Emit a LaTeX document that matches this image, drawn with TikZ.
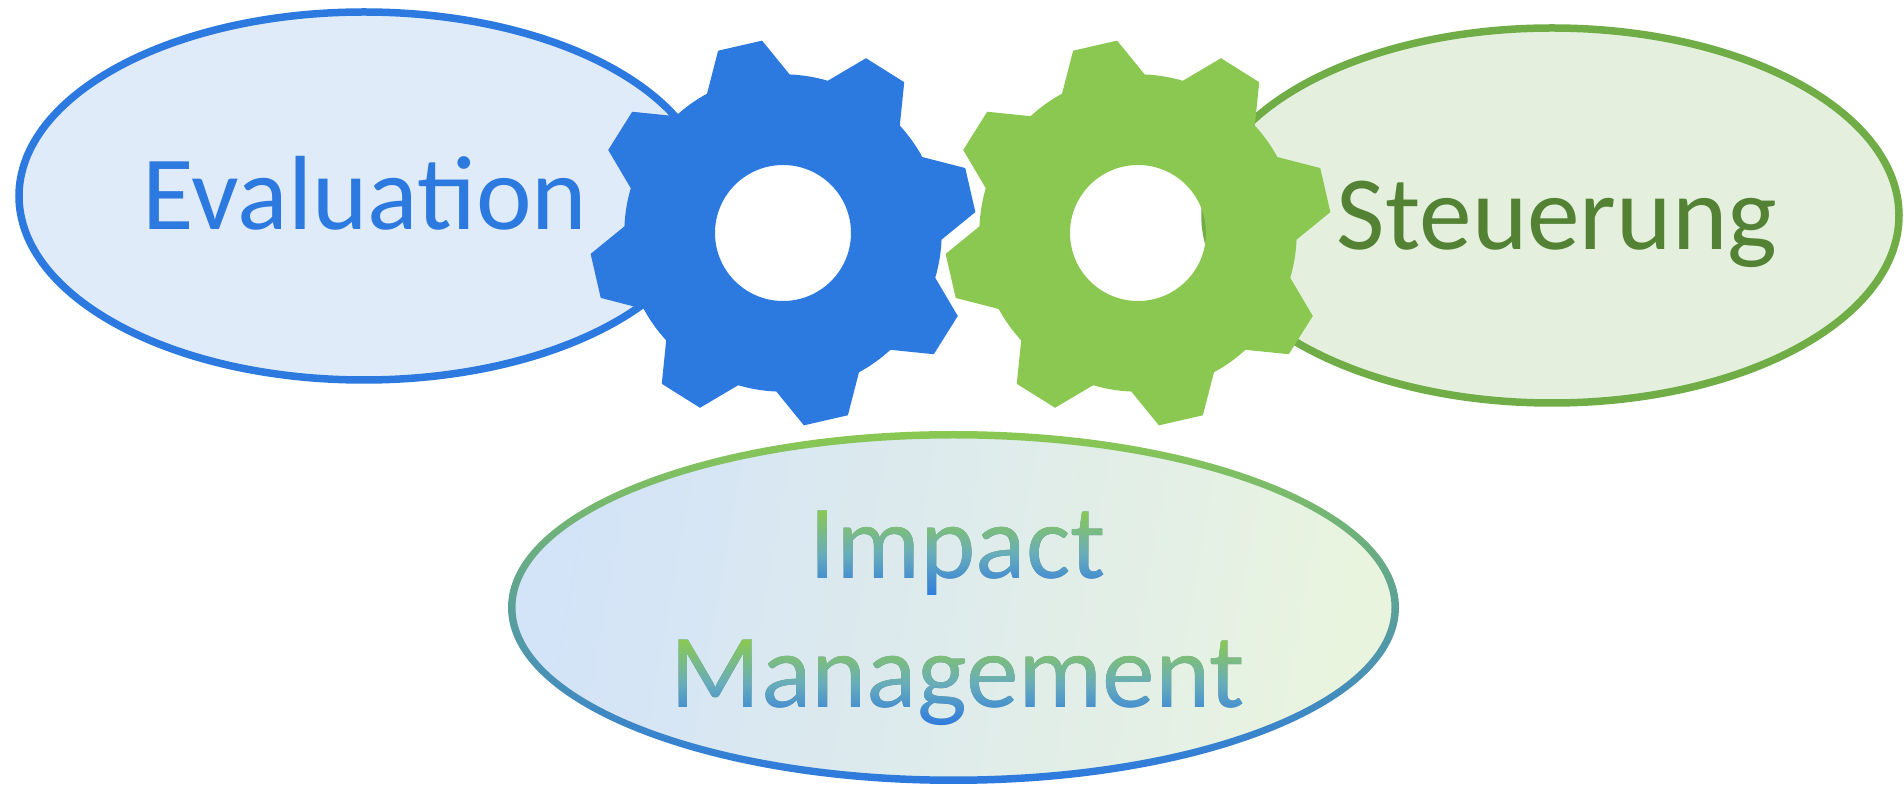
\documentclass[tikz,border=0pt]{standalone}
\usepackage{fontspec}
\setmainfont{Carlito}
\usetikzlibrary{shapes.geometric}
\definecolor{gearblue}{HTML}{2C79E0}
\definecolor{geargreen}{HTML}{8AC852}
\definecolor{evalfill}{HTML}{E0EBF9}
\definecolor{steuerline}{HTML}{70AD47}
\definecolor{steuerfill}{HTML}{E4F0DD}
\definecolor{steuertext}{HTML}{548235}
\definecolor{impactleft}{HTML}{D3E3F8}
\definecolor{impactright}{HTML}{E9F4DF}
\definecolor{impactmid}{HTML}{68ADBA}
\definecolor{impactdark}{HTML}{2C7952}
\newcommand{\labelfont}{\fontsize{30pt}{36.6pt}\selectfont}
\tikzset{
  goal/.style={ellipse,draw,line width=.075cm,inner sep=0pt},
  goaltext/.style={font=\labelfont,anchor=base,inner sep=0pt},
}
\pgfdeclareverticalshading{impacttext}{100bp}{color(0bp)=(gearblue); color(25bp)=(gearblue);
  color(35bp)=(impactmid); color(45bp)=(geargreen); color(50bp)=(geargreen); color(50.1bp)=(gearblue);
  color(55bp)=(gearblue); color(65bp)=(impactmid); color(75bp)=(geargreen); color(100bp)=(geargreen)}
\newcommand{\gear}[3]{
\fill[#3,even odd rule,shift={(#1,#2)}] (118.6:1.587)
  \foreach \k in {0,...,7}{
    -- ({109.6-45*\k}:1.935) -- ({96.2-45*\k}:1.935) -- ({87.6-45*\k}:1.587)
    arc[start angle={87.6-45*\k},end angle={73.6-45*\k},radius=1.587]
  } -- cycle (0,0) circle (.68);
}
\begin{document}
\begin{tikzpicture}
\useasboundingbox (0,0) rectangle (19.04,7.85);

\node[goal,draw=gearblue,fill=evalfill,minimum width=6.9cm,minimum height=3.68cm] (evaluation) at (3.64,5.89) {};
\node[goal,draw=steuerline,fill=steuerfill,minimum width=6.94cm,minimum height=3.75cm] (steuerung) at (15.52,5.695) {};

\shade[left color=impactleft,right color=impactright,shading angle=80] (9.535,1.775) ellipse (4.4 and 1.7);
\shade[even odd rule,top color=geargreen,middle color=impactmid,bottom color=gearblue]
  (9.535,1.775) ellipse (4.455 and 1.765) (9.535,1.775) ellipse (4.38 and 1.69);

\gear{7.83}{5.52}{gearblue}
\gear{11.38}{5.52}{geargreen}

\node[goaltext,text=gearblue] (evallabel) at (3.65,5.55) {Evaluation};
\node[goaltext,text=steuertext] (steuerlabel) at (15.57,5.35) {Steuerung};
\node[text=impactdark,font=\labelfont,align=center,inner sep=0pt] (impactlabel) at (9.58,1.665) {Impact\\Management};
\shade[shading=impacttext,blend mode=lighten] (impactlabel.south west) rectangle (impactlabel.north east);
\end{tikzpicture}
\end{document}
